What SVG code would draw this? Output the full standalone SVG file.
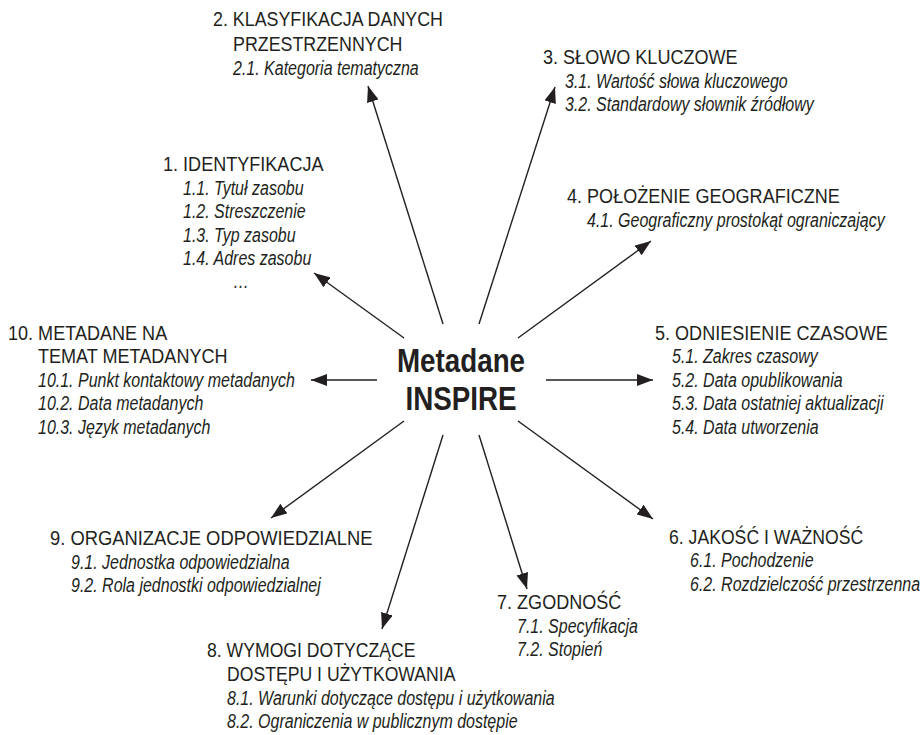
<svg xmlns="http://www.w3.org/2000/svg" width="923" height="735" viewBox="0 0 923 735">
<defs>
<marker id="ah" markerWidth="16" markerHeight="12" refX="16" refY="6" orient="auto" markerUnits="userSpaceOnUse">
<path d="M0,0 L16,6 L0,12 z" fill="#231f20"/>
</marker>
<style>
text{font-family:"Liberation Sans",Arial,sans-serif;fill:#231f20}
.h{font-size:21px}
.s{font-size:19.5px;font-style:italic}
.c{font-size:32.5px;font-weight:bold;text-anchor:middle}
.ln{stroke:#231f20;stroke-width:1.4;fill:none;marker-end:url(#ah)}
</style>
</defs>
<rect width="923" height="735" fill="#ffffff"/>
<g id="connectors">
<line class="ln" x1="443" y1="324" x2="368" y2="86"/>
<line class="ln" x1="479" y1="324" x2="555" y2="87"/>
<line class="ln" x1="404" y1="338" x2="314" y2="273"/>
<line class="ln" x1="518" y1="338" x2="651" y2="241"/>
<line class="ln" x1="377" y1="380" x2="311" y2="380"/>
<line class="ln" x1="546" y1="380" x2="653" y2="380"/>
<line class="ln" x1="404" y1="421" x2="271" y2="518"/>
<line class="ln" x1="518" y1="421" x2="653" y2="519"/>
<line class="ln" x1="443" y1="435" x2="382" y2="629"/>
<line class="ln" x1="479" y1="435" x2="527" y2="589"/>
</g>
<g id="center">
<text class="c" transform="matrix(0.855 0 0 1 461 372)">Metadane</text>
<text class="c" transform="matrix(0.855 0 0 1 461 410)">INSPIRE</text>
</g>
<g id="n2">
<text class="h" transform="matrix(0.85 0 0 1 213 26)">2. KLASYFIKACJA DANYCH</text>
<text class="h" transform="matrix(0.85 0 0 1 233 51)">PRZESTRZENNYCH</text>
<text class="s" transform="matrix(0.82 0 0 1 233 75)">2.1. Kategoria tematyczna</text>
</g>
<g id="n3">
<text class="h" transform="matrix(0.86 0 0 1 543 64)">3. SŁOWO KLUCZOWE</text>
<text class="s" transform="matrix(0.82 0 0 1 565 88)">3.1. Wartość słowa kluczowego</text>
<text class="s" transform="matrix(0.82 0 0 1 565 111)">3.2. Standardowy słownik źródłowy</text>
</g>
<g id="n1">
<text class="h" transform="matrix(0.86 0 0 1 163 171)">1. IDENTYFIKACJA</text>
<text class="s" transform="matrix(0.82 0 0 1 183 195)">1.1. Tytuł zasobu</text>
<text class="s" transform="matrix(0.82 0 0 1 183 218)">1.2. Streszczenie</text>
<text class="s" transform="matrix(0.82 0 0 1 183 242)">1.3. Typ zasobu</text>
<text class="s" transform="matrix(0.82 0 0 1 183 265)">1.4. Adres zasobu</text>
<text class="s" transform="matrix(0.82 0 0 1 233 288)">…</text>
</g>
<g id="n4">
<text class="h" transform="matrix(0.86 0 0 1 567 203)">4. POŁOŻENIE GEOGRAFICZNE</text>
<text class="s" transform="matrix(0.82 0 0 1 587 227)">4.1. Geograficzny prostokąt ograniczający</text>
</g>
<g id="n10">
<text class="h" transform="matrix(0.86 0 0 1 8 340)">10. METADANE NA</text>
<text class="h" transform="matrix(0.86 0 0 1 38 363)">TEMAT METADANYCH</text>
<text class="s" transform="matrix(0.82 0 0 1 38 387)">10.1. Punkt kontaktowy metadanych</text>
<text class="s" transform="matrix(0.82 0 0 1 38 410)">10.2. Data metadanych</text>
<text class="s" transform="matrix(0.82 0 0 1 38 434)">10.3. Język metadanych</text>
</g>
<g id="n5">
<text class="h" transform="matrix(0.86 0 0 1 655 340)">5. ODNIESIENIE CZASOWE</text>
<text class="s" transform="matrix(0.82 0 0 1 672 363)">5.1. Zakres czasowy</text>
<text class="s" transform="matrix(0.82 0 0 1 672 387)">5.2. Data opublikowania</text>
<text class="s" transform="matrix(0.82 0 0 1 672 410)">5.3. Data ostatniej aktualizacji</text>
<text class="s" transform="matrix(0.82 0 0 1 672 434)">5.4. Data utworzenia</text>
</g>
<g id="n9">
<text class="h" transform="matrix(0.875 0 0 1 50 545)">9. ORGANIZACJE ODPOWIEDZIALNE</text>
<text class="s" transform="matrix(0.82 0 0 1 71 569)">9.1. Jednostka odpowiedzialna</text>
<text class="s" transform="matrix(0.82 0 0 1 71 592)">9.2. Rola jednostki odpowiedzialnej</text>
</g>
<g id="n6">
<text class="h" transform="matrix(0.84 0 0 1 669 544)">6. JAKOŚĆ I WAŻNOŚĆ</text>
<text class="s" transform="matrix(0.82 0 0 1 690 567)">6.1. Pochodzenie</text>
<text class="s" transform="matrix(0.82 0 0 1 690 591)">6.2. Rozdzielczość przestrzenna</text>
</g>
<g id="n7">
<text class="h" transform="matrix(0.86 0 0 1 497 609)">7. ZGODNOŚĆ</text>
<text class="s" transform="matrix(0.82 0 0 1 517 633)">7.1. Specyfikacja</text>
<text class="s" transform="matrix(0.82 0 0 1 517 656)">7.2. Stopień</text>
</g>
<g id="n8">
<text class="h" transform="matrix(0.84 0 0 1 207 657)">8. WYMOGI DOTYCZĄCE</text>
<text class="h" transform="matrix(0.84 0 0 1 227 681)">DOSTĘPU I UŻYTKOWANIA</text>
<text class="s" transform="matrix(0.82 0 0 1 227 705)">8.1. Warunki dotyczące dostępu i użytkowania</text>
<text class="s" transform="matrix(0.82 0 0 1 227 728)">8.2. Ograniczenia w publicznym dostępie</text>
</g>
</svg>
